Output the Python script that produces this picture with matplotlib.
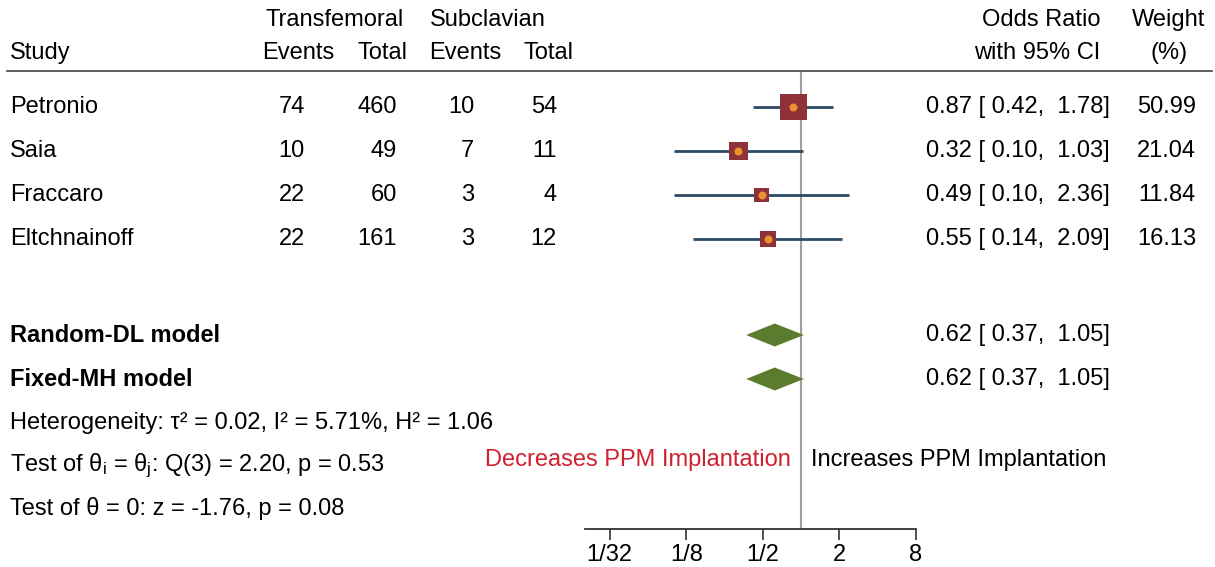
import matplotlib.pyplot as plt
import numpy as np
from matplotlib.lines import Line2D

plt.rcParams['font.family'] = ['Liberation Sans', 'DejaVu Sans']
plt.rcParams['mathtext.fontset'] = 'custom'
plt.rcParams['mathtext.rm'] = 'Liberation Sans'
plt.rcParams['mathtext.it'] = 'Liberation Sans'

# data
studies = ['Petronio', 'Saia', 'Fraccaro', 'Eltchnainoff']
tf_events = [74, 10, 22, 22]
tf_total = [460, 49, 60, 161]
sc_events = [10, 7, 3, 3]
sc_total = [54, 11, 4, 12]
odds = [0.87, 0.32, 0.49, 0.55]
ci_lo = [0.42, 0.10, 0.10, 0.14]
ci_hi = [1.78, 1.03, 2.36, 2.09]
weights = [50.99, 21.04, 11.84, 16.13]

models = ['Random-DL model', 'Fixed-MH model']
model_or = [0.62, 0.62]
model_lo = [0.37, 0.37]
model_hi = [1.05, 1.05]

stats_lines = [
    'Heterogeneity: τ² = 0.02, I² = 5.71%, H² = 1.06',
    r'Test of θ$_\mathregular{i}$ = θ$_\mathregular{j}$: Q(3) = 2.20, p = 0.53',
    'Test of θ = 0: z = -1.76, p = 0.08',
]
tick_vals = [1/32, 1/8, 1/2, 2, 8]
tick_labels = ['1/32', '1/8', '1/2', '2', '8']

W, H = 1215, 567
fig = plt.figure(figsize=(W / 100, H / 100), dpi=100)

def fx(x):
    return x / W

def fy(y):
    return 1 - y / H

FS = 17
study_y = [107, 151, 195, 239]
model_y = [335, 379]
stats_y = [423, 466, 509]

# headers
fig.text(fx(335), fy(20), 'Transfemoral', ha='center', va='center', fontsize=FS)
fig.text(fx(488), fy(20), 'Subclavian', ha='center', va='center', fontsize=FS)
fig.text(fx(10), fy(53), 'Study', ha='left', va='center', fontsize=FS)
for cx, lab in zip([298, 382, 465, 549], ['Events', 'Total', 'Events', 'Total']):
    fig.text(fx(cx), fy(53), lab, ha='center', va='center', fontsize=FS)
fig.text(fx(1100), fy(20), 'Odds Ratio', ha='right', va='center', fontsize=FS)
fig.text(fx(1100), fy(53), 'with 95% CI', ha='right', va='center', fontsize=FS)
fig.text(fx(1169), fy(20), 'Weight', ha='center', va='center', fontsize=FS)
fig.text(fx(1169), fy(53), '(%)', ha='center', va='center', fontsize=FS)
fig.add_artist(Line2D([fx(7), fx(1212)], [fy(71), fy(71)], color='#444444', lw=1.2))

# study rows
for i, y in enumerate(study_y):
    fig.text(fx(10), fy(y), studies[i], ha='left', va='center', fontsize=FS)
    fig.text(fx(305), fy(y), str(tf_events[i]), ha='right', va='center', fontsize=FS)
    fig.text(fx(397), fy(y), str(tf_total[i]), ha='right', va='center', fontsize=FS)
    fig.text(fx(474), fy(y), str(sc_events[i]), ha='right', va='center', fontsize=FS)
    fig.text(fx(557), fy(y), str(sc_total[i]), ha='right', va='center', fontsize=FS)
    fig.text(fx(1110), fy(y), f'{odds[i]:.2f} [ {ci_lo[i]:.2f},  {ci_hi[i]:.2f}]',
             ha='right', va='center', fontsize=FS)
    fig.text(fx(1196), fy(y), f'{weights[i]:.2f}', ha='right', va='center', fontsize=FS)

for i, y in enumerate(model_y):
    fig.text(fx(10), fy(y), models[i], ha='left', va='center', fontsize=FS, fontweight='bold')
    fig.text(fx(1110), fy(y), f'{model_or[i]:.2f} [ {model_lo[i]:.2f},  {model_hi[i]:.2f}]',
             ha='right', va='center', fontsize=FS)

for s, y in zip(stats_lines, stats_y):
    fig.text(fx(10), fy(y), s, ha='left', va='center', fontsize=FS)

fig.text(fx(791), fy(460), 'Decreases PPM Implantation', ha='right', va='center',
         fontsize=FS, color='#D0202E')
fig.text(fx(811), fy(460), 'Increases PPM Implantation', ha='left', va='center', fontsize=FS)

# forest panel
ax = fig.add_axes([fx(585), fy(529), fx(916) - fx(585), (529 - 71) / H])
ax.set_xscale('log', base=2)
ax.set_xlim(0.02, 8)
ax.set_ylim(529, 71)
for sp in ['top', 'right', 'left']:
    ax.spines[sp].set_visible(False)
ax.spines['bottom'].set_color('#333333')
ax.spines['bottom'].set_linewidth(1.3)
ax.set_yticks([])
ax.set_xticks(tick_vals)
ax.set_xticklabels(tick_labels, fontsize=FS)
ax.xaxis.set_minor_locator(plt.NullLocator())
ax.tick_params(axis='x', length=8, width=1.2, color='#333333', pad=3)

ax.axvline(1, color='#A0A0A0', lw=1.5, zorder=1)

sides = [3.8 + 3.24 * np.sqrt(w) for w in weights]
ax.hlines(study_y, ci_lo, ci_hi, color='#2C4A63', lw=2, zorder=2)
ax.scatter(odds, study_y, marker='s', s=[(s * 0.72) ** 2 for s in sides],
           color='#8E3139', linewidths=0, zorder=3)
ax.scatter(odds, study_y, marker='o', s=(8 * 0.72) ** 2, color='#EE9030',
           linewidths=0, zorder=4)

dh = 11.5
for est, lo, hi, y in zip(model_or, model_lo, model_hi, model_y):
    ax.fill([lo, est, hi, est], [y, y - dh, y, y + dh], color='#5B7B2F', lw=0, zorder=3)

fig.savefig('out.png', dpi=100)
